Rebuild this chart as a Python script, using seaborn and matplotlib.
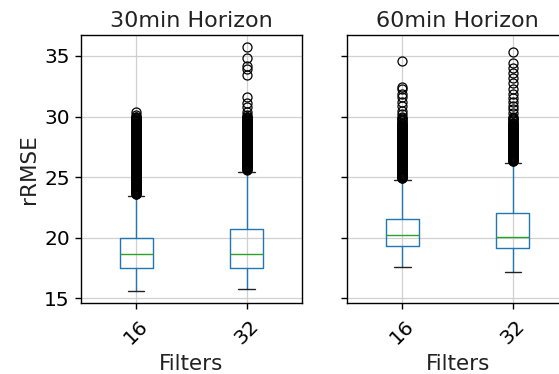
import matplotlib
matplotlib.use("Agg")
import matplotlib.pyplot as plt
import seaborn as sns

# ---------------- data ----------------
horizons = ["30min Horizon", "60min Horizon"]
filters = ["16", "32"]

# box statistics per horizon: [filters 16, filters 32]
q1_30 = [17.53, 17.48]
med_30 = [18.63, 18.63]
q3_30 = [19.95, 20.69]
wlo_30 = [15.60, 15.77]
whi_30 = [23.45, 25.45]

q1_60 = [19.32, 19.13]
med_60 = [20.22, 20.03]
q3_60 = [21.55, 22.02]
wlo_60 = [17.56, 17.20]
whi_60 = [24.80, 26.20]

# outliers (the dense black bands are read as closely spaced values)
fl_30_16 = [23.6, 23.65, 23.7, 23.75, 23.8, 23.85, 23.9, 23.95, 24.0, 24.05, 24.1, 24.15,
            24.2, 24.25, 24.3, 24.35, 24.4, 24.45, 24.5, 24.55, 24.6, 24.65, 24.7, 24.75,
            24.8, 24.85, 24.9, 24.95, 25.0, 25.05, 25.1, 25.15, 25.2, 25.25, 25.3, 25.35,
            25.4, 25.45, 25.5, 25.55, 25.6, 25.65, 25.7, 25.75, 25.8, 25.85, 25.9, 25.95,
            26.0, 26.05, 26.1, 26.15, 26.2, 26.25, 26.3, 26.35, 26.4, 26.45, 26.5, 26.55,
            26.6, 26.65, 26.7, 26.75, 26.8, 26.85, 26.9, 26.95, 27.0, 27.05, 27.1, 27.15,
            27.2, 27.25, 27.3, 27.35, 27.4, 27.45, 27.5, 27.55, 27.6, 27.65, 27.7, 27.75,
            27.8, 27.85, 27.9, 27.95, 28.0, 28.05, 28.1, 28.15, 28.2, 28.25, 28.3, 28.35,
            28.4, 28.45, 28.5, 28.55, 28.6, 28.65, 28.7, 28.75, 28.8, 28.85, 28.9, 28.95,
            29.0, 29.05, 29.1, 29.15, 29.2, 29.25, 29.3, 29.35, 29.4, 29.45, 29.5, 29.55,
            29.6, 29.65, 29.7, 29.75, 29.8, 29.85, 29.9, 29.95, 30.0, 30.15, 30.35]
fl_30_32 = [25.6, 25.65, 25.7, 25.75, 25.8, 25.85, 25.9, 25.95,
            26.0, 26.05, 26.1, 26.15, 26.2, 26.25, 26.3, 26.35, 26.4, 26.45, 26.5, 26.55,
            26.6, 26.65, 26.7, 26.75, 26.8, 26.85, 26.9, 26.95, 27.0, 27.05, 27.1, 27.15,
            27.2, 27.25, 27.3, 27.35, 27.4, 27.45, 27.5, 27.55, 27.6, 27.65, 27.7, 27.75,
            27.8, 27.85, 27.9, 27.95, 28.0, 28.05, 28.1, 28.15, 28.2, 28.25, 28.3, 28.35,
            28.4, 28.45, 28.5, 28.55, 28.6, 28.65, 28.7, 28.75, 28.8, 28.85, 28.9, 28.95,
            29.0, 29.05, 29.1, 29.15, 29.2, 29.25, 29.3, 29.35, 29.4, 29.45, 29.5, 29.55,
            29.6, 29.65, 29.7, 29.75, 29.8, 29.85, 29.9, 29.95, 30.0, 30.1, 30.4, 30.8,
            31.1, 31.6, 33.4, 33.9, 34.2, 34.8, 35.75]
fl_60_16 = [24.9, 24.95, 25.0, 25.05, 25.1, 25.15, 25.2, 25.25, 25.3, 25.35,
            25.4, 25.45, 25.5, 25.55, 25.6, 25.65, 25.7, 25.75, 25.8, 25.85, 25.9, 25.95,
            26.0, 26.05, 26.1, 26.15, 26.2, 26.25, 26.3, 26.35, 26.4, 26.45, 26.5, 26.55,
            26.6, 26.65, 26.7, 26.75, 26.8, 26.85, 26.9, 26.95, 27.0, 27.05, 27.1, 27.15,
            27.2, 27.25, 27.3, 27.35, 27.4, 27.45, 27.5, 27.55, 27.6, 27.65, 27.7, 27.75,
            27.8, 27.85, 27.9, 27.95, 28.0, 28.05, 28.1, 28.15, 28.2, 28.25, 28.3, 28.35,
            28.4, 28.45, 28.5, 28.55, 28.6, 28.65, 28.7, 28.75, 28.8, 28.85, 28.9, 28.95,
            29.0, 29.05, 29.1, 29.15, 29.2, 29.25, 29.3, 29.35, 29.4, 29.45, 29.5, 29.6,
            29.7, 29.8, 29.9, 30.0, 30.2, 30.5, 30.9, 31.2, 31.6, 31.9, 32.3, 32.4,
            34.6]
fl_60_32 = [26.3, 26.35, 26.4, 26.45, 26.5, 26.55,
            26.6, 26.65, 26.7, 26.75, 26.8, 26.85, 26.9, 26.95, 27.0, 27.05, 27.1, 27.15,
            27.2, 27.25, 27.3, 27.35, 27.4, 27.45, 27.5, 27.55, 27.6, 27.65, 27.7, 27.75,
            27.8, 27.85, 27.9, 27.95, 28.0, 28.05, 28.1, 28.15, 28.2, 28.25, 28.3, 28.35,
            28.4, 28.45, 28.5, 28.55, 28.6, 28.65, 28.7, 28.75, 28.8, 28.85, 28.9, 28.95,
            29.0, 29.05, 29.1, 29.15, 29.2, 29.25, 29.3, 29.35, 29.4, 29.45, 29.5, 29.6,
            29.7, 29.8, 29.9, 30.0, 30.3, 30.6, 30.9, 31.2, 31.5, 31.9, 32.3, 32.8,
            33.2, 33.6, 34.0, 34.4, 35.3]

fliers_30 = [fl_30_16, fl_30_32]
fliers_60 = [fl_60_16, fl_60_32]

yticks = [15, 20, 25, 30, 35]

# ---------------- style ----------------
sns.set_theme(style="ticks", rc={
    "axes.edgecolor": "black",
    "axes.linewidth": 1.0,
    "xtick.color": "black",
    "ytick.color": "black",
    "text.color": "#222222",
    "axes.labelcolor": "#222222",
})
plt.rcParams["font.family"] = ["DejaVu Sans"]


def build_stats(q1, med, q3, wlo, whi, fl):
    out = []
    for i, lab in enumerate(filters):
        out.append(dict(label=lab, q1=q1[i], med=med[i], q3=q3[i],
                        whislo=wlo[i], whishi=whi[i], fliers=fl[i]))
    return out


stats = [build_stats(q1_30, med_30, q3_30, wlo_30, whi_30, fliers_30),
         build_stats(q1_60, med_60, q3_60, wlo_60, whi_60, fliers_60)]

fig = plt.figure(figsize=(5.59, 3.74), dpi=100)
ax1 = fig.add_axes([0.1449, 0.189, 0.3948, 0.7174])
ax2 = fig.add_axes([0.6213, 0.189, 0.3948, 0.7174], sharey=ax1)

box_c = "#1f77b4"
med_c = "#2ca02c"
for ax, st, title in zip([ax1, ax2], stats, horizons):
    ax.set_axisbelow(True)
    ax.grid(True, color="#d0d0d0", linewidth=0.9)
    ax.bxp(st, positions=[1, 2], widths=0.3, showfliers=True,
           boxprops=dict(color=box_c, linewidth=1.0),
           whiskerprops=dict(color=box_c, linewidth=1.0),
           capprops=dict(color="#222222", linewidth=1.0),
           medianprops=dict(color=med_c, linewidth=1.0),
           flierprops=dict(marker="o", markerfacecolor="none",
                           markeredgecolor="black", markersize=6.5,
                           markeredgewidth=0.9))
    ax.set_xlim(0.5, 2.5)
    ax.set_xticks([1, 2])
    ax.set_xticklabels(filters, rotation=45, fontsize=14.5)
    ax.set_xlabel("Filters", fontsize=15.5, labelpad=4)
    ax.set_title(title, fontsize=16, pad=6)
    ax.tick_params(axis="y", labelsize=14.5, length=4.5, width=1)
    ax.tick_params(axis="x", length=4.5, width=1, pad=5)

ax1.set_ylim(14.59, 36.73)
ax1.set_yticks(yticks)
ax1.set_ylabel("rRMSE", fontsize=15.5)
ax2.tick_params(axis="y", labelleft=False)

fig.savefig("out.png", dpi=100)
